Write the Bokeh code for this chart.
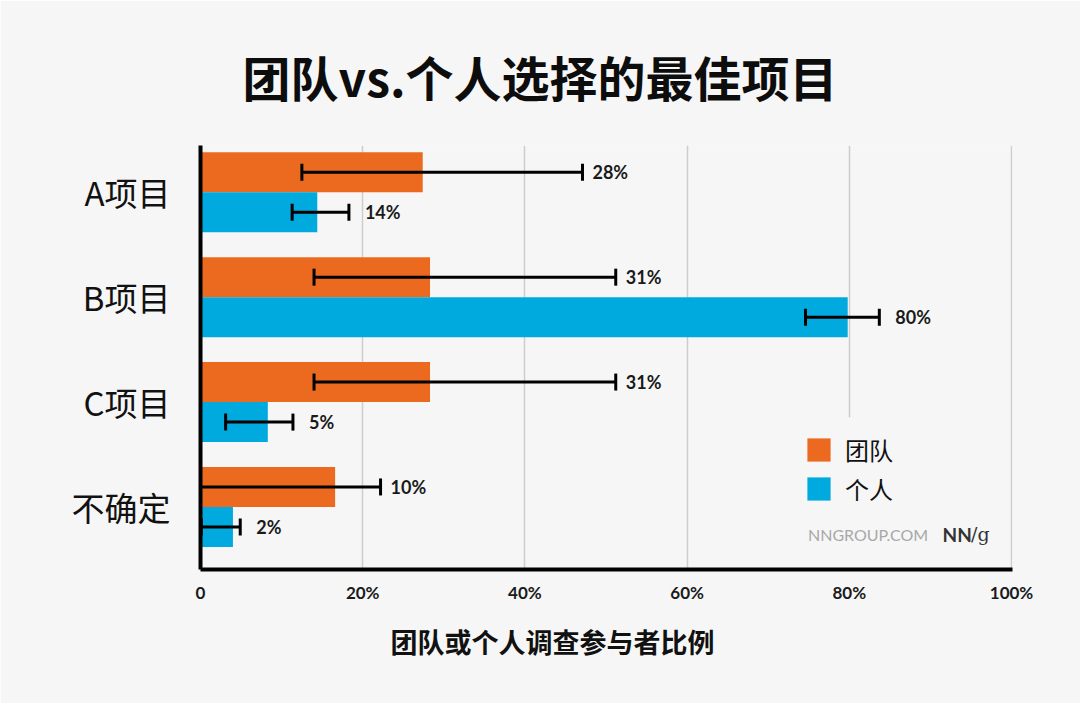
from bokeh.plotting import figure
from bokeh.models import (Range1d, FixedTicker, ColumnDataSource, Whisker, TeeHead,
                          Legend, LegendItem, Label, Title)
from bokeh.models import BoxAnnotation
from bokeh.core.properties import value
from bokeh.embed import file_html
from bokeh.resources import INLINE

# ---------------- data ----------------
categories = ["A项目", "B项目", "C项目", "不确定"]
series_names = ["团队", "个人"]
team_values = [27.4, 28.3, 28.3, 16.6]
individual_values = [14.4, 79.8, 8.3, 4.0]
team_err_low = [12.5, 14.0, 14.0, 0.0]
team_err_high = [47.1, 51.2, 51.2, 22.2]
individual_err_low = [11.3, 74.6, 3.1, 0.1]
individual_err_high = [18.3, 83.7, 11.4, 4.9]
team_labels = ["28%", "31%", "31%", "10%"]
individual_labels = ["14%", "80%", "5%", "2%"]
x_ticks = [0, 20, 40, 60, 80, 100]
x_tick_labels = ["0", "20%", "40%", "60%", "80%", "100%"]

title_text = "团队vs.个人选择的最佳项目"
x_title = "团队或个人调查参与者比例"

# ---------------- style ----------------
BG = "#f6f6f6"
ORANGE = "#ec6a1f"
BLUE = "#00aadf"
GRID = "#cdcdcd"
CJK = "Noto Sans CJK SC"
NUM = "Lato"
BAR_H = 0.3817
DODGE = BAR_H / 2

idx = list(range(len(categories)))
team_y = [i - DODGE for i in idx]
ind_y = [i + DODGE for i in idx]

team_src = ColumnDataSource(dict(y=team_y, v=team_values, lo=team_err_low,
                                 hi=team_err_high, label=team_labels))
ind_src = ColumnDataSource(dict(y=ind_y, v=individual_values, lo=individual_err_low,
                                hi=individual_err_high, label=individual_labels))

p = figure(width=1080, height=703, output_backend="svg", toolbar_location=None,
           x_range=Range1d(0, 100.12), y_range=Range1d(3.596, -0.446),
           min_border_left=200, min_border_right=68, min_border_top=145,
           min_border_bottom=134, background_fill_color=BG, border_fill_color=BG,
           outline_line_color=None)

# title
p.title.text = title_text
p.title.align = "left"
p.title.offset = 42
p.title.standoff = 70
p.title.text_font = CJK
p.title.text_font_style = "bold"
p.title.text_font_size = "48px"
p.title.text_color = "#0d0d0d"

r_team = p.hbar(y="y", left=0, right="v", height=BAR_H, source=team_src,
                fill_color=ORANGE, line_color=None)
r_ind = p.hbar(y="y", left=0, right="v", height=BAR_H, source=ind_src,
               fill_color=BLUE, line_color=None)

for src in (team_src, ind_src):
    w = Whisker(source=src, base="y", lower="lo", upper="hi", dimension="width",
                line_width=3, line_color="black",
                lower_head=TeeHead(size=17, line_width=3, line_color="black"),
                upper_head=TeeHead(size=17, line_width=3, line_color="black"))
    w.level = "overlay"
    p.add_layout(w)

p.text(x="hi", y="y", text="label", source=team_src, x_offset=10,
       text_baseline="middle", text_align="left", text_font=value(NUM),
       text_font_style="bold", text_font_size="18px", text_color="#1a1a1a")
p.text(x="hi", y="y", text="label", source=ind_src, x_offset=16,
       text_baseline="middle", text_align="left", text_font=value(NUM),
       text_font_style="bold", text_font_size="18px", text_color="#1a1a1a")

# axes
p.xaxis.ticker = FixedTicker(ticks=x_ticks)
p.xaxis.major_label_overrides = {t: l for t, l in zip(x_ticks, x_tick_labels)}
p.xaxis.axis_line_width = 4
p.xaxis.axis_line_color = "black"
p.xaxis.major_tick_line_color = None
p.xaxis.minor_tick_line_color = None
p.xaxis.major_label_standoff = 6
p.xaxis.major_label_text_font = NUM
p.xaxis.major_label_text_font_style = "bold"
p.xaxis.major_label_text_font_size = "17px"
p.xaxis.major_label_text_color = "#1a1a1a"

# x-axis title, placed left of the frame centre as in the original
p.add_layout(Title(text=x_title, align="left", offset=190, standoff=29,
                   text_font=CJK, text_font_style="bold", text_font_size="27px",
                   text_color="#111111"), "below")

p.yaxis.ticker = FixedTicker(ticks=idx)
p.yaxis.major_label_overrides = {i: c for i, c in zip(idx, categories)}
p.yaxis.axis_line_width = 4
p.yaxis.axis_line_color = "black"
p.yaxis.major_tick_line_color = None
p.yaxis.minor_tick_line_color = None
p.yaxis.major_label_standoff = 24
p.yaxis.major_label_text_font = CJK
p.yaxis.major_label_text_font_size = "33px"
p.yaxis.major_label_text_color = "#111111"

p.ygrid.grid_line_color = None
p.xgrid.grid_line_color = GRID
p.xgrid.grid_line_width = 1.5

# legend backdrop hiding grid lines
cover = BoxAnnotation(left=72, right=99.3, top=2.147, bottom=3.596,
                      fill_color=BG, fill_alpha=1.0, line_alpha=0.0)
cover.level = "glyph"
p.add_layout(cover)

legend = Legend(items=[LegendItem(label=series_names[0], renderers=[r_team]),
                       LegendItem(label=series_names[1], renderers=[r_ind])],
                location=(604, 63), orientation="vertical",
                glyph_width=29, glyph_height=29, label_standoff=12,
                label_text_font=CJK, label_text_font_size="24px",
                label_text_color="#111111", spacing=4, padding=0, margin=0,
                border_line_alpha=0, background_fill_alpha=0)
p.add_layout(legend)

# brand
p.add_layout(Label(x=74.9, y=3.262, text="NNGROUP.COM", text_font=NUM,
                   text_font_size="16px", text_color="#a8a8a8",
                   text_baseline="middle", text_align="left"))
p.add_layout(Label(x=91.5, y=3.262, text="NN", text_font=NUM, text_font_style="bold",
                   text_font_size="19px", text_color="#333333",
                   text_baseline="middle", text_align="left"))
p.add_layout(Label(x=95.0, y=3.262, text="/g", text_font="DejaVu Serif",
                   text_font_size="19px", text_color="#333333",
                   text_baseline="middle", text_align="left"))

html = file_html(p, INLINE)
html = html.replace("<body>", '<body style="background-color:%s;">' % BG, 1)
open("out.html", "w").write(html)
